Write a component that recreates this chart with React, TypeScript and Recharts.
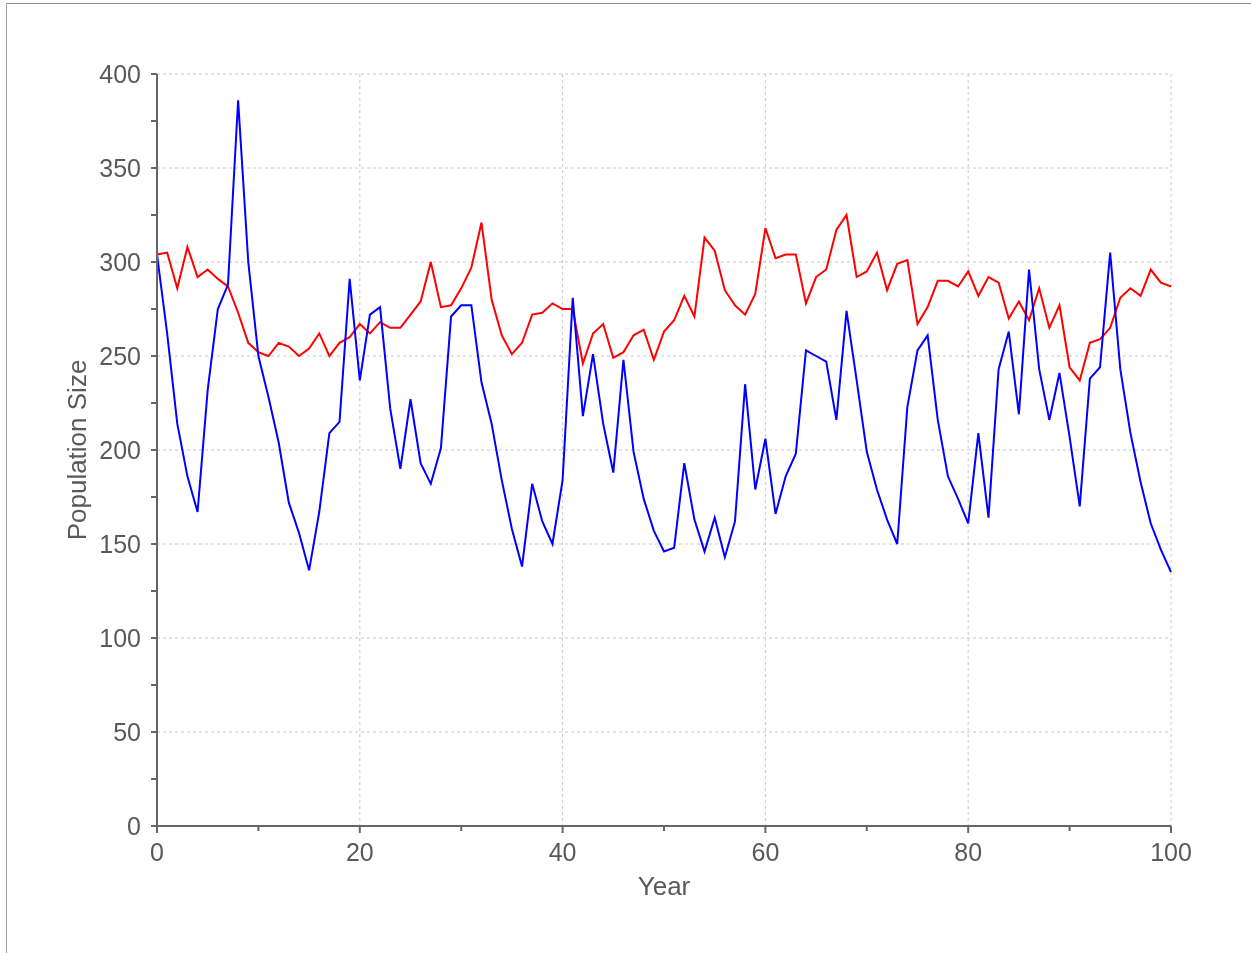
import React from "react";
import { LineChart, Line, XAxis, YAxis, CartesianGrid } from "recharts";

const years = Array.from({ length: 101 }, (_, i) => i);

const redPopulation = [
  304, 305, 286, 308, 292, 296, 291, 287, 273, 257, 252, 250, 257, 255, 250, 254, 262, 250, 257, 260,
  267, 262, 268, 265, 265, 272, 279, 300, 276, 277, 286, 297, 321, 280, 261, 251, 257, 272, 273, 278,
  275, 275, 246, 262, 267, 249, 252, 261, 264, 248, 263, 269, 282, 271, 313, 306, 285, 277, 272, 283,
  318, 302, 304, 304, 278, 292, 296, 317, 325, 292, 295, 305, 285, 299, 301, 267, 276, 290, 290, 287,
  295, 282, 292, 289, 270, 279, 269, 286, 265, 277, 244, 237, 257, 259, 265, 281, 286, 282, 296, 289,
  287,
];

const bluePopulation = [
  304, 262, 214, 186, 167, 232, 275, 288, 386, 300, 250, 228, 204, 172, 156, 136, 167, 209, 215, 291,
  237, 272, 276, 222, 190, 227, 193, 182, 201, 271, 277, 277, 236, 214, 184, 158, 138, 182, 162, 150,
  184, 281, 218, 251, 214, 188, 248, 199, 174, 157, 146, 148, 193, 163, 146, 164, 143, 162, 235, 179,
  206, 166, 186, 198, 253, 250, 247, 216, 274, 237, 199, 179, 163, 150, 223, 253, 261, 216, 186, 174,
  161, 209, 164, 243, 263, 219, 296, 243, 216, 241, 207, 170, 238, 244, 305, 243, 209, 183, 161, 147,
  135,
];

const xTicks = [0, 10, 20, 30, 40, 50, 60, 70, 80, 90, 100];
const xGrid = [0, 20, 40, 60, 80, 100];
const yTicks = [0, 25, 50, 75, 100, 125, 150, 175, 200, 225, 250, 275, 300, 325, 350, 375, 400];
const yGrid = [0, 50, 100, 150, 200, 250, 300, 350, 400];

const data = years.map((year, i) => ({
  year,
  red: redPopulation[i],
  blue: bluePopulation[i],
}));

const font = '"Liberation Sans", Arial, sans-serif';
const textColor = "#595959";
const axisColor = "#666";

function YTick({ x, y, payload }: any) {
  const major = payload.value % 50 === 0;
  return (
    <g>
      <line x1={x - 6} x2={x} y1={y} y2={y} stroke={axisColor} strokeWidth={2} />
      {major && (
        <text x={x - 16} y={y} textAnchor="end" dominantBaseline="central" fontSize={25} fontFamily={font} fill={textColor}>
          {payload.value}
        </text>
      )}
    </g>
  );
}

function XTick({ x, y, payload }: any) {
  const major = payload.value % 20 === 0;
  return (
    <g>
      <line x1={x} x2={x} y1={y} y2={y + (major ? 7 : 5)} stroke={axisColor} strokeWidth={2} />
      {major && (
        <text x={x} y={y + 26} textAnchor="middle" dominantBaseline="central" fontSize={25} fontFamily={font} fill={textColor}>
          {payload.value}
        </text>
      )}
    </g>
  );
}

export default function App() {
  return (
    <div style={{ position: "relative", width: 1235, height: 937 }}>
      <div
        style={{
          position: "fixed",
          top: 3,
          left: 6,
          width: 1245,
          height: 950,
          borderTop: "1px solid #8c998c",
          borderLeft: "1px solid #a0a0a0",
        }}
      />
      <LineChart width={1235} height={937} data={data} margin={{ top: 66, right: 72, left: 49, bottom: 39 }}>
        <CartesianGrid
          stroke="#c8c8c8"
          strokeDasharray="3 3"
          horizontalValues={yGrid}
          verticalValues={xGrid}
        />
        <XAxis
          dataKey="year"
          type="number"
          domain={[0, 100]}
          ticks={xTicks}
          interval={0}
          height={80}
          tickSize={0}
          tickMargin={0}
          tickLine={false}
          axisLine={{ stroke: axisColor, strokeWidth: 2 }}
          tick={<XTick />}
          label={{ value: "Year", position: "insideBottom", offset: 11, fontSize: 26, fontFamily: font, fill: textColor }}
        />
        <YAxis
          type="number"
          domain={[0, 400]}
          ticks={yTicks}
          interval={0}
          width={100}
          tickSize={0}
          tickMargin={0}
          tickLine={false}
          axisLine={{ stroke: axisColor, strokeWidth: 2 }}
          tick={<YTick />}
          label={{
            value: "Population Size",
            position: "insideLeft",
            angle: -90,
            offset: 20,
            fontSize: 26,
            fontFamily: font,
            fill: textColor,
            style: { textAnchor: "middle" },
          }}
        />
        <Line type="linear" dataKey="red" stroke="#ff0000" strokeWidth={2} dot={false} isAnimationActive={false} />
        <Line type="linear" dataKey="blue" stroke="#0000ff" strokeWidth={2} dot={false} isAnimationActive={false} />
      </LineChart>
    </div>
  );
}
